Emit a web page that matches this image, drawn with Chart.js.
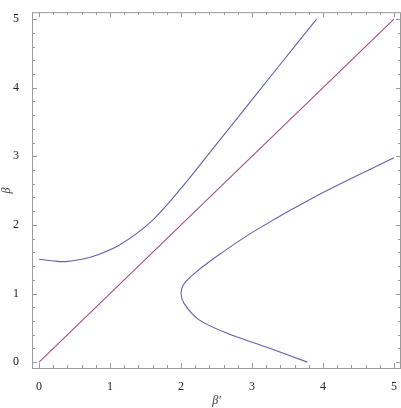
<!DOCTYPE html>
<html>
<head>
<meta charset="utf-8">
<script src="https://cdn.jsdelivr.net/npm/chart.js@4"></script>
<style>
  html, body { margin: 0; padding: 0; background: #fff; }
  canvas { display: block; }
</style>
</head>
<body>
<canvas id="grafico" width="401" height="408"></canvas>
<script>
// Curva superior (ramo à esquerda da diagonal)
const superiorX = [0, 0.2, 0.37, 0.6, 0.84, 1.14, 1.57, 1.99, 2.41, 2.85, 3.36, 3.91];
const superiorY = [1.50, 1.475, 1.465, 1.50, 1.57, 1.71, 2.04, 2.52, 3.06, 3.63, 4.29, 5.0];

// Curva inferior (ramo em forma de "C" à direita)
const inferiorX = [5.0, 3.94, 3.05, 2.46, 2.14, 2.03, 2.0, 2.04, 2.25, 2.65, 3.2, 3.78];
const inferiorY = [2.98, 2.44, 1.92, 1.51, 1.25, 1.12, 1.0, 0.86, 0.62, 0.42, 0.22, 0.0];

// Diagonal beta = beta'
const diagonalX = [0, 5];
const diagonalY = [0, 5];

// Marcas dos eixos
const ticksPrincipais = [0, 1, 2, 3, 4, 5];
const ticksMenores = [0.2, 0.4, 0.6, 0.8, 1.2, 1.4, 1.6, 1.8, 2.2, 2.4, 2.6, 2.8, 3.2, 3.4, 3.6, 3.8, 4.2, 4.4, 4.6, 4.8];

const pontos = (xs, ys) => xs.map((x, i) => ({ x: x, y: ys[i] }));

// Moldura com marcas para dentro nos quatro lados
const molduraPlugin = {
  id: 'moldura',
  afterDraw(chart) {
    const { ctx, chartArea: a, scales } = chart;
    ctx.save();
    ctx.strokeStyle = '#9a9a9a';
    ctx.lineWidth = 1;
    ctx.strokeRect(a.left + 0.5, a.top + 0.5, a.right - a.left - 1, a.bottom - a.top - 1);
    const marcas = ticksPrincipais.map(v => [v, 5]).concat(ticksMenores.map(v => [v, 3]));
    ctx.beginPath();
    marcas.forEach(([v, len]) => {
      const px = Math.round(scales.x.getPixelForValue(v)) + 0.5;
      ctx.moveTo(px, a.bottom - 1); ctx.lineTo(px, a.bottom - 1 - len);
      ctx.moveTo(px, a.top); ctx.lineTo(px, a.top + len);
      const py = Math.round(scales.y.getPixelForValue(v)) + 0.5;
      ctx.moveTo(a.left, py); ctx.lineTo(a.left + len, py);
      ctx.moveTo(a.right, py); ctx.lineTo(a.right - len, py);
    });
    ctx.stroke();
    ctx.restore();
  }
};

const ctx = document.getElementById('grafico').getContext('2d');

const fonteTicks = { family: '"Liberation Serif", "DejaVu Serif", serif', size: 12 };
const fonteTitulo = { family: '"Liberation Serif", "DejaVu Serif", serif', size: 12, style: 'italic' };

new Chart(ctx, {
  type: 'scatter',
  data: {
    datasets: [
      {
        data: pontos(superiorX, superiorY),
        showLine: true,
        borderColor: '#6060b0',
        borderWidth: 1.1,
        pointRadius: 0,
        tension: 0.3
      },
      {
        data: pontos(inferiorX, inferiorY),
        showLine: true,
        borderColor: '#6060b0',
        borderWidth: 1.1,
        pointRadius: 0,
        tension: 0.3
      },
      {
        data: pontos(diagonalX, diagonalY),
        showLine: true,
        borderColor: '#a34c82',
        borderWidth: 1.1,
        pointRadius: 0
      }
    ]
  },
  options: {
    responsive: false,
    animation: false,
    devicePixelRatio: 1,
    layout: { padding: 0 },
    plugins: {
      legend: { display: false },
      tooltip: { enabled: false }
    },
    scales: {
      x: {
        type: 'linear',
        min: -0.1,
        max: 5.1,
        afterBuildTicks: scale => { scale.ticks = ticksPrincipais.map(v => ({ value: v })); },
        afterFit: scale => { scale.height = 39; },
        grid: { display: false },
        border: { display: false },
        ticks: { color: '#222', font: fonteTicks, padding: 3, maxRotation: 0 },
        title: { display: true, text: 'β′', color: '#333', font: fonteTitulo, padding: 0 }
      },
      y: {
        type: 'linear',
        min: -0.1,
        max: 5.1,
        afterBuildTicks: scale => { scale.ticks = ticksPrincipais.map(v => ({ value: v })); },
        afterFit: scale => { scale.width = 32; },
        grid: { display: false },
        border: { display: false },
        ticks: { color: '#222', font: fonteTicks, padding: 5 },
        title: { display: true, text: 'β', color: '#333', font: fonteTitulo, padding: 0 }
      }
    }
  },
  plugins: [molduraPlugin]
});
</script>
</body>
</html>
